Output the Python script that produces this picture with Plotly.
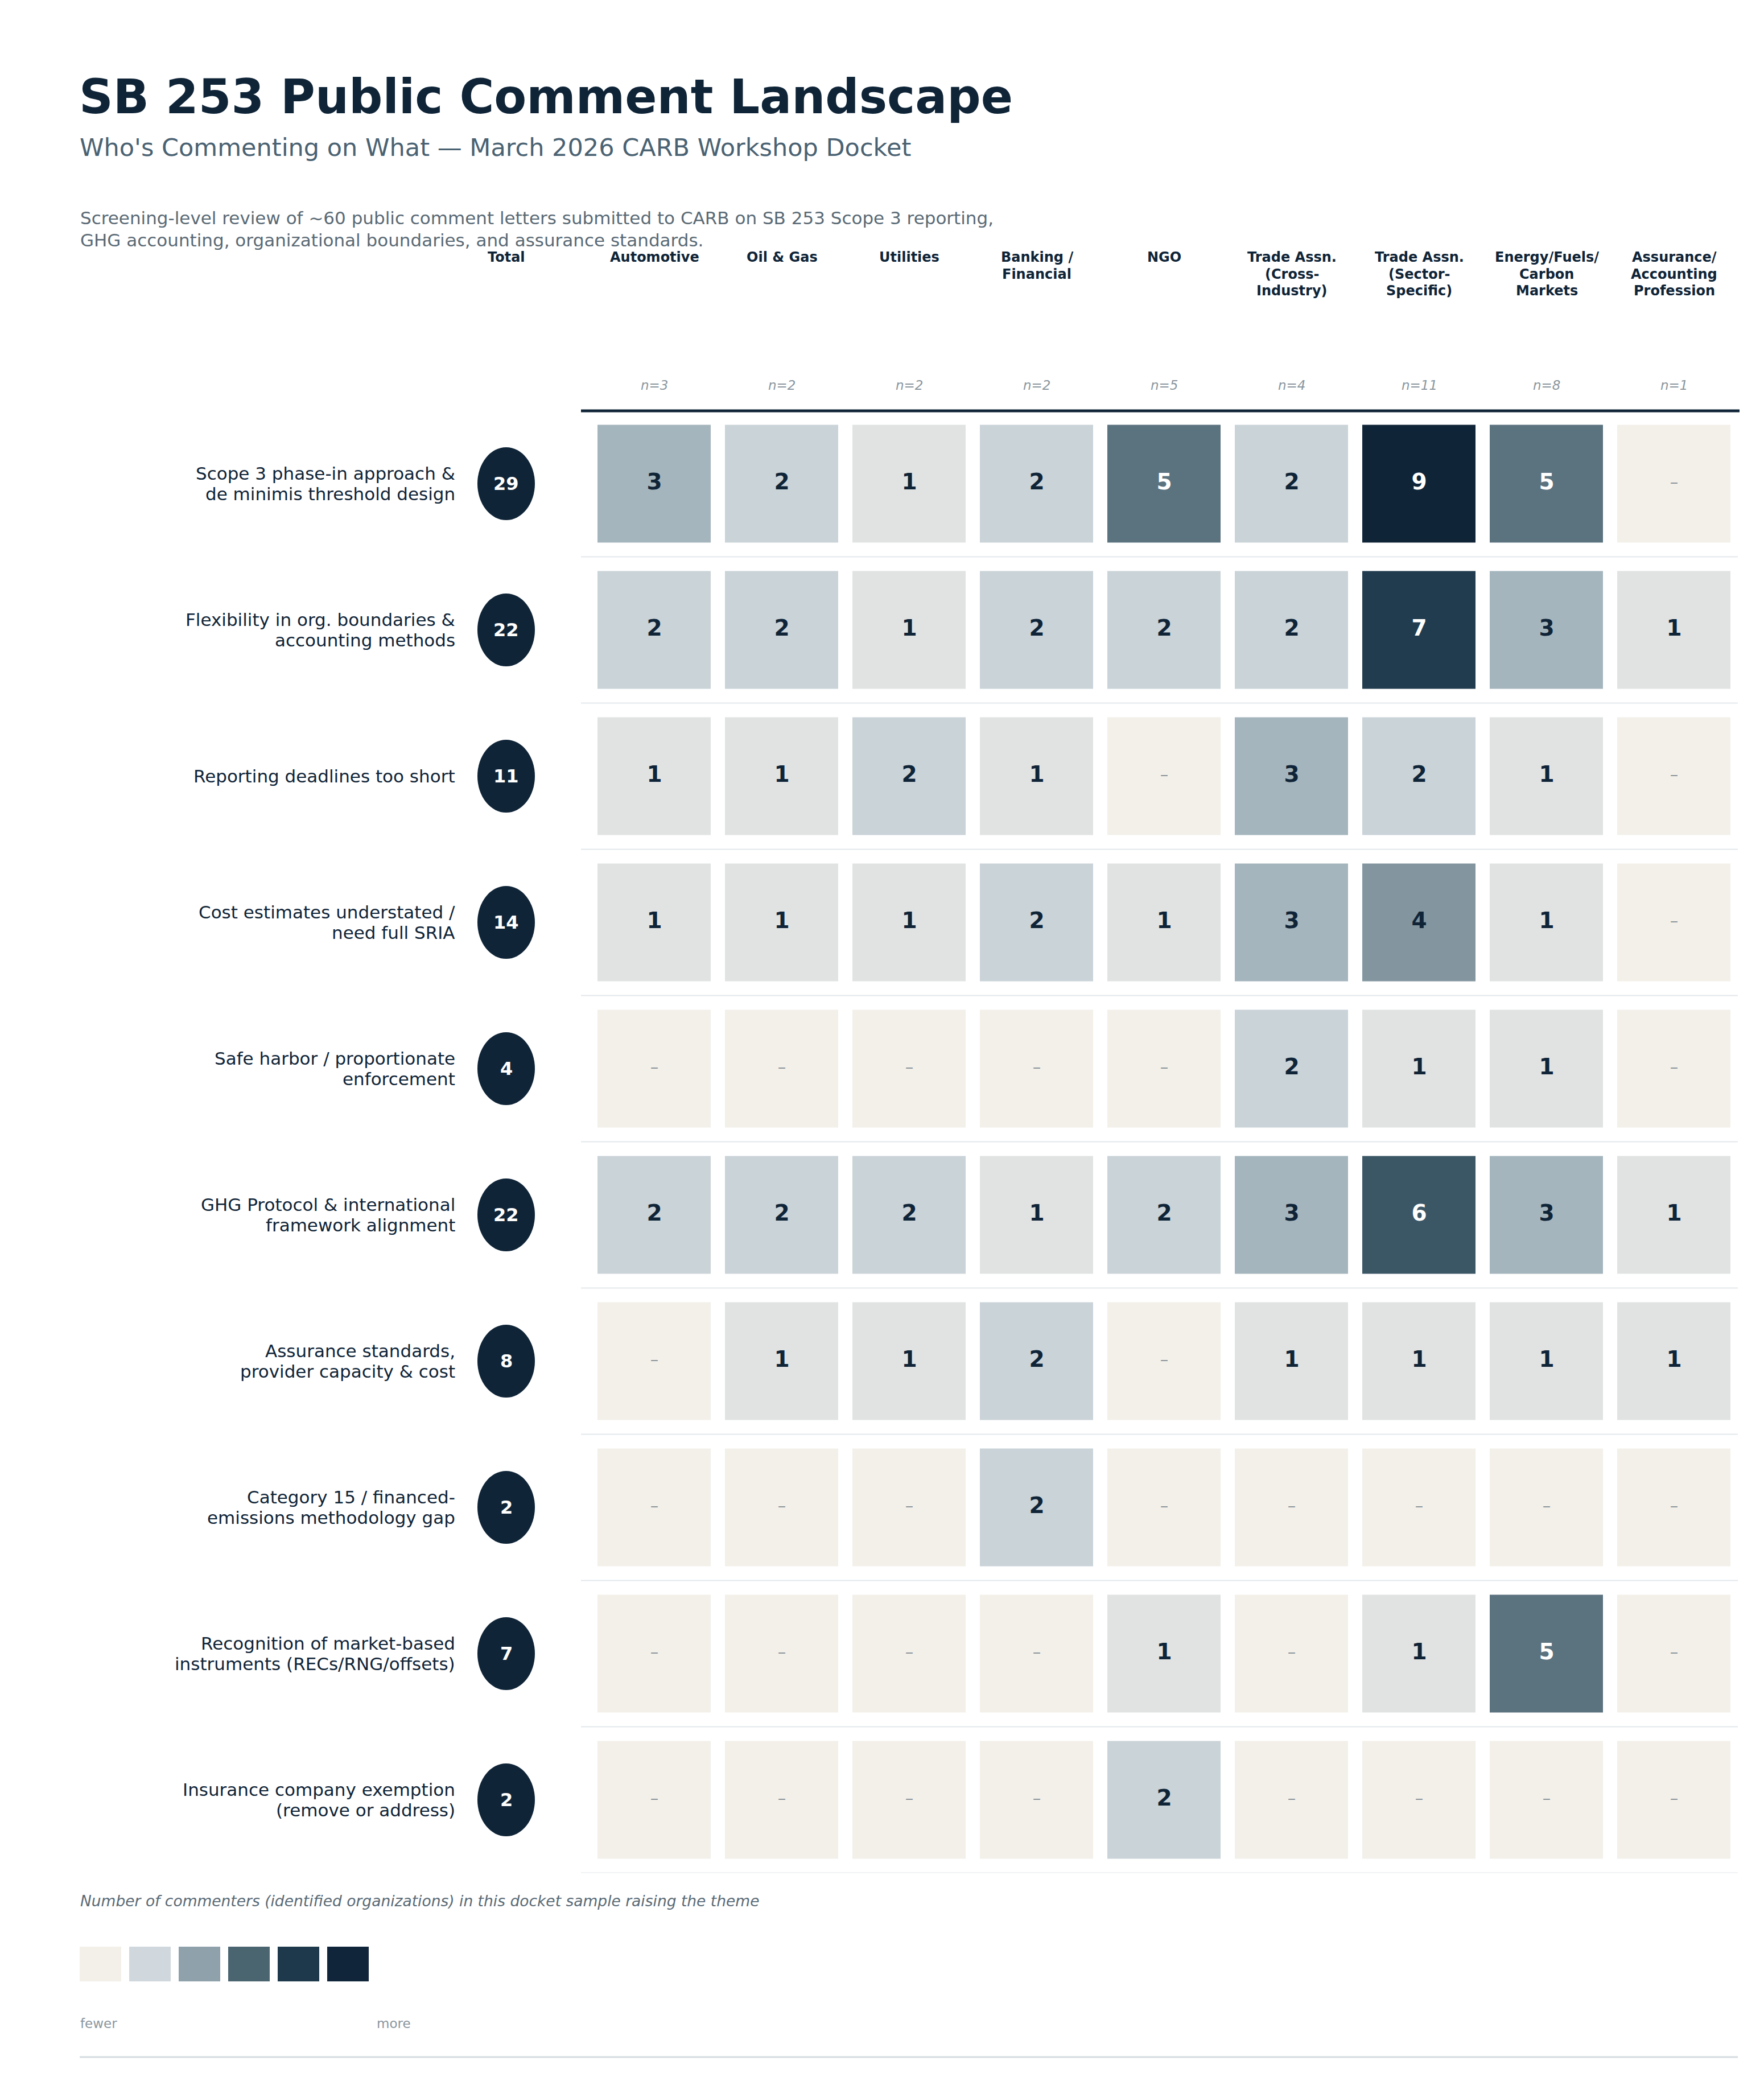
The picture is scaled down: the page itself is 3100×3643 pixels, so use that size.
import plotly.graph_objects as go

W, H = 3100, 3643
FONT = "DejaVu Sans"
DARK = "#0f2437"

# ---------------- data ----------------
sectors = ["Automotive", "Oil & Gas", "Utilities", "Banking / Financial", "NGO",
           "Trade Assn. (Cross-Industry)", "Trade Assn. (Sector-Specific)",
           "Energy/Fuels/Carbon Markets", "Assurance/Accounting Profession"]
sector_labels = [["Automotive"], ["Oil & Gas"], ["Utilities"], ["Banking /", "Financial"], ["NGO"],
                 ["Trade Assn.", "(Cross-", "Industry)"], ["Trade Assn.", "(Sector-", "Specific)"],
                 ["Energy/Fuels/", "Carbon", "Markets"], ["Assurance/", "Accounting", "Profession"]]
sector_n = [3, 2, 2, 2, 5, 4, 11, 8, 1]

themes = ["Scope 3 phase-in approach & de minimis threshold design",
          "Flexibility in org. boundaries & accounting methods",
          "Reporting deadlines too short",
          "Cost estimates understated / need full SRIA",
          "Safe harbor / proportionate enforcement",
          "GHG Protocol & international framework alignment",
          "Assurance standards, provider capacity & cost",
          "Category 15 / financed-emissions methodology gap",
          "Recognition of market-based instruments (RECs/RNG/offsets)",
          "Insurance company exemption (remove or address)"]
theme_labels = [["Scope 3 phase-in approach &", "de minimis threshold design"],
                ["Flexibility in org. boundaries &", "accounting methods"],
                ["Reporting deadlines too short"],
                ["Cost estimates understated /", "need full SRIA"],
                ["Safe harbor / proportionate", "enforcement"],
                ["GHG Protocol & international", "framework alignment"],
                ["Assurance standards,", "provider capacity & cost"],
                ["Category 15 / financed-", "emissions methodology gap"],
                ["Recognition of market-based", "instruments (RECs/RNG/offsets)"],
                ["Insurance company exemption", "(remove or address)"]]
totals = [29, 22, 11, 14, 4, 22, 8, 2, 7, 2]

counts = [
    [3, 2, 1, 2, 5, 2, 9, 5, 0],
    [2, 2, 1, 2, 2, 2, 7, 3, 1],
    [1, 1, 2, 1, 0, 3, 2, 1, 0],
    [1, 1, 1, 2, 1, 3, 4, 1, 0],
    [0, 0, 0, 0, 0, 2, 1, 1, 0],
    [2, 2, 2, 1, 2, 3, 6, 3, 1],
    [0, 1, 1, 2, 0, 1, 1, 1, 1],
    [0, 0, 0, 2, 0, 0, 0, 0, 0],
    [0, 0, 0, 0, 1, 0, 1, 5, 0],
    [0, 0, 0, 0, 2, 0, 0, 0, 0],
]

title = "SB 253 Public Comment Landscape"
subtitle = "Who's Commenting on What — March 2026 CARB Workshop Docket"
description = ["Screening-level review of ~60 public comment letters submitted to CARB on SB 253 Scope 3 reporting,",
               "GHG accounting, organizational boundaries, and assurance standards."]
legend_caption = "Number of commenters (identified organizations) in this docket sample raising the theme"

level_colors = ["#f3f0ea", "#e1e3e3", "#cad3d8", "#a5b5bd", "#8396a0",
                "#5b727f", "#3b5665", "#213c4f", "#17303f", "#0f2437"]
legend_colors = ["#f3f0ea", "#d0d8de", "#8fa2ab", "#4a6470", "#1e394b", "#10243a"]

# ---------------- helpers ----------------
ROW_PX = 257.0


def px(x):
    return x / W


def py(y):
    return 1 - y / H


n_lv = len(level_colors)
colorscale = []
for i, c in enumerate(level_colors):
    colorscale.append([i / n_lv, c])
    colorscale.append([(i + 1) / n_lv, c])

fig = go.Figure()

fig.add_trace(go.Heatmap(
    x=sectors, y=themes, z=counts,
    colorscale=colorscale, zmin=-0.5, zmax=n_lv - 0.5,
    showscale=False, xgap=25, ygap=50, hoverinfo="skip",
))

# cell numbers
nx, ny, nt, nc = [], [], [], []
zx, zy = [], []
for r, th in enumerate(themes):
    for c, s in enumerate(sectors):
        v = counts[r][c]
        if v == 0:
            zx.append(s); zy.append(th)
        else:
            nx.append(s); ny.append(th); nt.append(str(v))
            nc.append("#ffffff" if v >= 5 else DARK)

fig.add_trace(go.Scatter(
    x=nx, y=ny, text=nt, mode="text", hoverinfo="skip",
    textfont=dict(family=FONT, size=39, color=nc, weight="bold"),
    showlegend=False,
))
fig.add_trace(go.Scatter(
    x=zx, y=zy, text=["–"] * len(zx), mode="text", hoverinfo="skip",
    textfont=dict(family=FONT, size=29, color="#8a9499"),
    showlegend=False,
))

shapes = []
annotations = []


def ann(**kw):
    d = dict(showarrow=False, xanchor="center", yanchor="middle")
    d.update(kw)
    annotations.append(d)


# thick header rule
shapes.append(dict(type="line", xref="paper", yref="paper",
                   x0=px(1021), x1=px(3057), y0=py(722), y1=py(722),
                   line=dict(color=DARK, width=5)))
# row separators
for i in range(len(themes)):
    shapes.append(dict(type="line", xref="paper", yref="y",
                       x0=px(1021), x1=px(3054), y0=i + 0.5, y1=i + 0.5,
                       line=dict(color="#e3e8eb", width=2), layer="below"))

# total circles + numbers + row labels
for i, (th, lab, t) in enumerate(zip(themes, theme_labels, totals)):
    shapes.append(dict(type="circle", xref="paper", yref="y",
                       x0=px(839), x1=px(940), y0=i - 64 / ROW_PX, y1=i + 64 / ROW_PX,
                       fillcolor=DARK, line=dict(width=0)))
    ann(xref="paper", yref="y", x=px(889.5), y=i, text=f"<b>{t}</b>",
        font=dict(family=FONT, size=32, color="#ffffff"))
    nl = len(lab)
    for k, line in enumerate(lab):
        off = (k - (nl - 1) / 2) * 36.0
        ann(xref="paper", yref="y", x=px(802), y=i + off / ROW_PX,
            xanchor="right", text=line,
            font=dict(family=FONT, size=31, color=DARK))

# column headers
ann(xref="paper", yref="paper", x=px(889.5), y=py(451.5), text="<b>Total</b>",
    font=dict(family=FONT, size=24, color=DARK))
for s, lab, n in zip(sectors, sector_labels, sector_n):
    for k, line in enumerate(lab):
        ann(xref="x", yref="paper", x=s, y=py(451.5 + 30 * k), text=f"<b>{line}</b>",
            font=dict(family=FONT, size=24, color=DARK))
    ann(xref="x", yref="paper", x=s, y=py(677), text=f"<i>n={n}</i>",
        font=dict(family=FONT, size=23, color="#8a969e"))

# title block
ann(xref="paper", yref="paper", x=px(137), y=py(170), xanchor="left",
    text=f"<b>{title}</b>", font=dict(family=FONT, size=83, color=DARK))
ann(xref="paper", yref="paper", x=px(138), y=py(259), xanchor="left",
    text=subtitle, font=dict(family=FONT, size=43, color="#4a6272"))
for k, line in enumerate(description):
    ann(xref="paper", yref="paper", x=px(139), y=py(383 + 39 * k), xanchor="left",
        text=line, font=dict(family=FONT, size=31, color="#5a6a75"))

# legend
ann(xref="paper", yref="paper", x=px(139), y=py(3340), xanchor="left",
    text=f"<i>{legend_caption}</i>", font=dict(family=FONT, size=26.5, color="#5a6a75"))
for k, c in enumerate(legend_colors):
    x0 = 140 + 87 * k
    shapes.append(dict(type="rect", xref="paper", yref="paper",
                       x0=px(x0), x1=px(x0 + 73), y0=py(3482), y1=py(3421),
                       fillcolor=c, line=dict(width=0)))
ann(xref="paper", yref="paper", x=px(139), y=py(3556), xanchor="left", text="fewer",
    font=dict(family=FONT, size=23, color="#8a969e"))
ann(xref="paper", yref="paper", x=px(660), y=py(3556), xanchor="left", text="more",
    font=dict(family=FONT, size=23, color="#8a969e"))
shapes.append(dict(type="line", xref="paper", yref="paper",
                   x0=px(140), x1=px(3054), y0=py(3615), y1=py(3615),
                   line=dict(color="#d5dcdf", width=3)))

fig.update_layout(
    width=W, height=H,
    margin=dict(l=0, r=0, t=0, b=0),
    paper_bgcolor="#ffffff", plot_bgcolor="#ffffff",
    showlegend=False,
    shapes=shapes, annotations=annotations,
    xaxis=dict(domain=[px(1038), px(3054)], range=[-0.5, 8.5],
               showticklabels=False, showgrid=False, zeroline=False,
               fixedrange=True, categoryorder="array", categoryarray=sectors),
    yaxis=dict(domain=[py(3291.5), py(721.5)], range=[9.5, -0.5],
               showticklabels=False, showgrid=False, zeroline=False,
               fixedrange=True, categoryorder="array", categoryarray=themes),
)

fig.write_html("out.html")
